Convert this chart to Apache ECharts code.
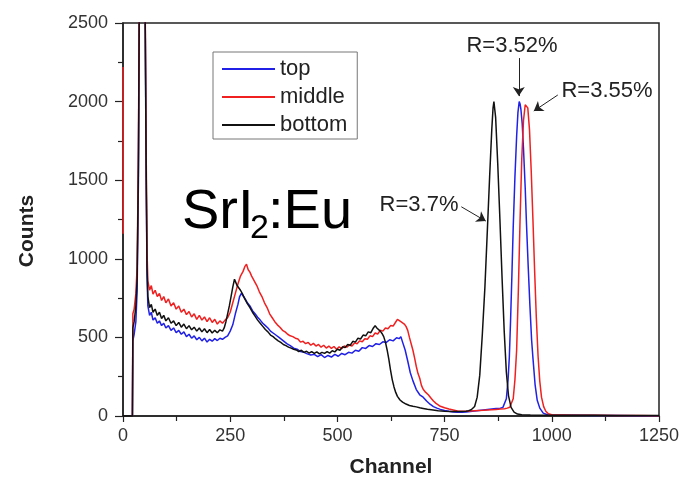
<!DOCTYPE html>
<html>
<head>
<meta charset="utf-8">
<script src="https://cdn.jsdelivr.net/npm/echarts@6/dist/echarts.min.js"></script>
<style>
  html, body { margin: 0; padding: 0; background: #fff; }
  #chart { width: 683px; height: 484px; }
</style>
</head>
<body>
<div id="chart"></div>
<script>
// spectra, [channel, counts]
const topSpectrum = [
  [22, 0], [23, 480], [26, 520], [30, 600], [33, 800], [36, 1500], [38, 2600], [42, 3500], [46, 3800],
  [50, 3000], [52, 2400], [54, 1500], [56, 900], [58, 700], [62, 640], [66, 660], [70, 610], [75, 625],
  [80, 590], [85, 605], [90, 575], [95, 590], [100, 560], [106, 575], [112, 545], [118, 560], [124, 530],
  [130, 545], [136, 520], [142, 535], [148, 505], [154, 520], [160, 495], [166, 510], [172, 485], [178, 500],
  [184, 478], [190, 495], [196, 470], [202, 488], [208, 476], [214, 492], [220, 480], [226, 495], [232, 488],
  [238, 500], [244, 510], [250, 540], [256, 580], [262, 650], [268, 710], [272, 760], [276, 780], [280, 765],
  [285, 745], [290, 720], [296, 700], [302, 670], [308, 650], [314, 628], [320, 610], [326, 590], [332, 575],
  [338, 560], [344, 540], [350, 528], [358, 512], [366, 495], [374, 478], [382, 460], [390, 448], [398, 432],
  [406, 425], [414, 410], [422, 405], [430, 395], [438, 388], [446, 392], [454, 378], [462, 390], [470, 372],
  [478, 385], [486, 375], [494, 392], [502, 380], [510, 398], [518, 390], [526, 405], [534, 400], [542, 418],
  [550, 412], [558, 435], [566, 430], [574, 448], [582, 442], [590, 460], [598, 455], [606, 472], [614, 468],
  [622, 485], [630, 478], [638, 498], [644, 492], [648, 505], [652, 470], [658, 420], [664, 350], [670, 275],
  [676, 225], [684, 168], [692, 135], [700, 120], [708, 95], [716, 75], [724, 60], [732, 50], [740, 42],
  [750, 35], [760, 30], [770, 26], [780, 24], [790, 24], [800, 26], [810, 29], [820, 32], [830, 35],
  [840, 38], [850, 41], [860, 44], [870, 47], [880, 50], [886, 55], [890, 65], [894, 110], [898, 230],
  [901, 377], [904, 620], [907, 900], [910, 1200], [914, 1520], [918, 1780], [921, 1930], [924, 2000],
  [926, 1985], [928, 1950], [931, 1860], [934, 1700], [938, 1450], [941, 1220], [945, 950], [949, 700],
  [953, 480], [956, 370], [961, 200], [966, 100], [972, 50], [980, 18], [990, 8], [1000, 5], [1050, 4],
  [1100, 3], [1150, 3], [1200, 2], [1250, 2]
];
const middleSpectrum = [
  [0, 2220], [0.5, 1160], [0.6, '-'],
  [22, 0], [23, 650], [26, 680], [30, 780], [33, 950], [36, 1700], [38, 2700], [42, 3600], [46, 3900],
  [50, 3200], [52, 2500], [54, 1700], [56, 1050], [58, 860], [62, 800], [66, 830], [70, 775], [75, 800],
  [80, 760], [85, 780], [90, 735], [95, 760], [100, 720], [106, 745], [112, 700], [118, 720], [124, 680],
  [130, 700], [136, 660], [142, 680], [148, 645], [154, 665], [160, 630], [166, 650], [172, 615], [178, 640],
  [184, 610], [190, 630], [196, 600], [202, 625], [208, 595], [214, 615], [220, 585], [226, 605], [232, 590],
  [238, 610], [244, 625], [250, 660], [256, 720], [262, 780], [268, 840], [274, 890], [280, 920], [284, 950],
  [288, 965], [292, 930], [296, 915], [300, 890], [306, 860], [312, 830], [318, 790], [324, 760], [330, 720],
  [336, 690], [342, 650], [348, 625], [354, 600], [360, 580], [366, 565], [372, 545], [378, 535], [384, 520],
  [390, 510], [396, 505], [402, 495], [408, 490], [414, 470], [420, 475], [426, 460], [432, 468], [438, 450],
  [444, 462], [450, 445], [456, 455], [462, 438], [468, 450], [474, 432], [480, 445], [486, 430], [492, 442],
  [498, 425], [504, 440], [510, 428], [516, 445], [522, 438], [528, 452], [534, 445], [540, 465], [546, 460],
  [552, 478], [558, 472], [564, 492], [570, 488], [576, 510], [582, 505], [588, 528], [594, 522], [600, 545],
  [606, 540], [612, 560], [618, 555], [624, 575], [630, 572], [636, 598], [640, 615], [644, 625], [648, 600],
  [652, 595], [656, 585], [660, 570], [664, 545], [668, 500], [672, 460], [676, 420], [680, 370], [684, 315],
  [688, 270], [692, 240], [696, 195], [700, 170], [706, 150], [712, 135], [718, 115], [724, 95], [730, 80],
  [740, 62], [750, 52], [760, 44], [770, 38], [780, 32], [790, 30], [800, 30], [810, 32], [820, 34],
  [830, 35], [840, 36], [850, 38], [860, 40], [870, 42], [880, 44], [890, 46], [896, 50], [902, 56],
  [906, 65], [910, 110], [914, 230], [918, 420], [922, 800], [926, 1250], [930, 1640], [934, 1880],
  [938, 1980], [941, 1990], [944, 1960], [948, 1820], [952, 1560], [956, 1250], [960, 920], [964, 620],
  [968, 380], [972, 220], [976, 120], [981, 60], [986, 30], [992, 14], [1000, 8], [1050, 5], [1100, 4],
  [1150, 3], [1200, 3], [1250, 2]
];
const bottomSpectrum = [
  [0, 0], [22, 0], [23, 560], [26, 600], [30, 700], [33, 880], [36, 1600], [38, 2650], [42, 3550], [46, 3850],
  [50, 3100], [52, 2450], [54, 1600], [56, 950], [58, 760], [62, 690], [66, 710], [70, 660], [75, 680],
  [80, 640], [85, 660], [90, 620], [95, 640], [100, 605], [106, 625], [112, 590], [118, 605], [124, 575],
  [130, 595], [136, 565], [142, 585], [148, 555], [154, 575], [160, 548], [166, 565], [172, 540], [178, 560],
  [184, 535], [190, 555], [196, 530], [202, 550], [208, 528], [214, 545], [220, 530], [226, 548], [232, 540],
  [236, 560], [240, 600], [244, 650], [248, 700], [252, 760], [256, 820], [260, 870], [263, 850], [266, 830],
  [270, 830], [274, 800], [278, 780], [284, 745], [290, 715], [296, 690], [302, 660], [308, 635], [314, 610],
  [320, 590], [326, 570], [332, 550], [338, 535], [344, 515], [350, 505], [356, 490], [362, 478], [368, 468],
  [374, 455], [380, 448], [386, 438], [392, 432], [398, 425], [404, 420], [410, 410], [416, 418], [422, 405],
  [428, 412], [434, 400], [440, 410], [446, 398], [452, 408], [458, 395], [464, 405], [470, 398], [476, 410],
  [482, 400], [488, 415], [494, 408], [500, 425], [506, 418], [512, 440], [518, 435], [524, 455], [530, 450],
  [536, 475], [542, 470], [548, 495], [554, 490], [560, 515], [566, 510], [572, 535], [578, 530], [584, 560],
  [588, 575], [592, 560], [596, 550], [600, 540], [604, 525], [608, 505], [612, 470], [616, 420], [620, 360],
  [624, 290], [628, 230], [632, 185], [636, 150], [640, 125], [646, 102], [652, 88], [660, 76], [668, 67],
  [676, 62], [684, 58], [692, 52], [700, 48], [710, 43], [723, 38], [735, 33], [750, 30], [765, 28],
  [780, 28], [790, 29], [800, 30], [806, 34], [812, 40], [820, 60], [826, 120], [832, 260], [838, 520],
  [844, 820], [850, 1200], [855, 1520], [860, 1820], [863, 1960], [865, 2000], [867, 1950], [869, 1900],
  [874, 1600], [879, 1250], [884, 880], [889, 540], [894, 280], [899, 130], [905, 55], [912, 25], [920, 12],
  [930, 8], [950, 6], [1000, 5], [1050, 4], [1100, 4], [1150, 3], [1200, 3], [1250, 3]
];

const seriesNames = ["top", "middle", "bottom"];
const seriesColors = ["#2020e6", "#f02020", "#111111"];

// arrows from the resolution labels to their peaks, [channel, counts]
const arrowLines = [
  [[923, 2277], [923, 2035]],
  [[1014, 2042], [958, 1940]],
  [[789, 1331], [846, 1240]],
];

const FONT = "Liberation Sans, Arial, sans-serif";

const chart = echarts.init(document.getElementById("chart"));

const option = {
  animation: false,
  grid: {
    left: 123,
    right: 24,
    top: 23,
    bottom: 68,
    show: true,
    borderColor: "#222",
    borderWidth: 1.5,
  },
  legend: {
    data: seriesNames,
    orient: "vertical",
    left: 213,
    top: 52,
    icon: "rect",
    itemWidth: 53,
    itemHeight: 2,
    itemGap: 6,
    padding: [6, 10, 3, 9],
    borderColor: "#777",
    borderWidth: 1,
    textStyle: {
      fontFamily: FONT,
      fontSize: 22,
      lineHeight: 22,
      color: "#222",
    },
  },
  xAxis: {
    type: "value",
    min: 0,
    max: 1250,
    interval: 250,
    name: "Channel",
    nameLocation: "middle",
    nameGap: 41,
    nameTextStyle: {
      fontFamily: FONT,
      fontSize: 21,
      fontWeight: "bold",
      color: "#222",
    },
    axisLine: { lineStyle: { color: "#222", width: 1.5 } },
    axisTick: { show: true, length: 6, lineStyle: { color: "#222", width: 1.2 } },
    minorTick: { show: true, splitNumber: 2, length: 5, lineStyle: { color: "#222", width: 1.2 } },
    axisLabel: {
      fontFamily: FONT,
      fontSize: 18,
      color: "#333",
      margin: 11,
      formatter: (v) => String(v),
    },
    splitLine: { show: false },
  },
  yAxis: {
    type: "value",
    min: 0,
    max: 2500,
    interval: 500,
    axisLine: { show: true, lineStyle: { color: "#222", width: 1.5 } },
    axisTick: { show: true, length: 8, lineStyle: { color: "#222", width: 1.2 } },
    minorTick: { show: true, splitNumber: 2, length: 5, lineStyle: { color: "#222", width: 1.2 } },
    axisLabel: {
      fontFamily: FONT,
      fontSize: 18,
      color: "#333",
      margin: 15,
      formatter: (v) => String(v),
    },
    splitLine: { show: false },
  },
  series: [topSpectrum, middleSpectrum, bottomSpectrum].map((d, i) => ({
    name: seriesNames[i],
    type: "line",
    data: d,
    color: seriesColors[i],
    showSymbol: false,
    clip: true,
    lineStyle: { width: 1.5, color: seriesColors[i] },
    markLine: i === 2 ? {
      silent: true,
      symbol: ["none", "arrow"],
      symbolSize: 9,
      label: { show: false },
      lineStyle: { color: "#222", width: 1, type: "solid" },
      data: arrowLines.map((a) => [{ coord: a[0] }, { coord: a[1] }]),
    } : undefined,
  })),
  graphic: [
    {
      type: "text",
      x: 27,
      y: 231,
      rotation: Math.PI / 2,
      style: {
        text: "Counts",
        font: "bold 21px " + FONT,
        fill: "#222",
        align: "center",
        verticalAlign: "middle",
      },
    },
    {
      type: "text",
      x: 182,
      y: 213,
      style: { text: "SrI", font: "56px " + FONT, fill: "#000", align: "left", verticalAlign: "middle" },
    },
    {
      type: "text",
      x: 250,
      y: 229,
      style: { text: "2", font: "34px " + FONT, fill: "#000", align: "left", verticalAlign: "middle" },
    },
    {
      type: "text",
      x: 268,
      y: 213,
      style: { text: ":Eu", font: "56px " + FONT, fill: "#000", align: "left", verticalAlign: "middle" },
    },
    {
      type: "text",
      x: 512,
      y: 46,
      style: { text: "R=3.52%", font: "22px " + FONT, fill: "#222", align: "center", verticalAlign: "middle" },
    },
    {
      type: "text",
      x: 607,
      y: 91,
      style: { text: "R=3.55%", font: "22px " + FONT, fill: "#222", align: "center", verticalAlign: "middle" },
    },
    {
      type: "text",
      x: 419,
      y: 205,
      style: { text: "R=3.7%", font: "22px " + FONT, fill: "#222", align: "center", verticalAlign: "middle" },
    },
  ],
};

chart.setOption(option);
</script>
</body>
</html>
